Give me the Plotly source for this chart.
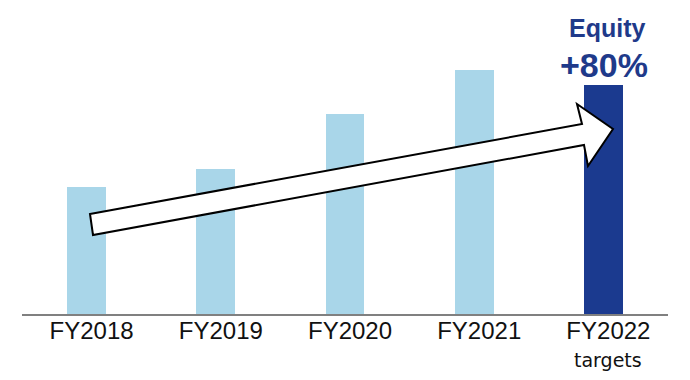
import plotly.graph_objects as go

# ---- data ----
categories = ["FY2018", "FY2019", "FY2020", "FY2021", "FY2022"]
equity_index = [100, 114, 157, 192, 180]
target_note = "targets"
headline_title = "Equity"
headline_value = "+80%"

W, H = 690, 380
ML, MR, MT, MB = 22, 22, 0, 66
Y_MAX = 247
X_MIN, X_MAX = -0.5, len(categories) - 0.5

light = "#a9d6e9"
navy = "#1b3a8f"
text_navy = "#1f3a8a"

colors = [light] * (len(categories) - 1) + [navy]
xs = list(range(len(categories)))

fig = go.Figure()
fig.add_trace(go.Bar(
    x=xs, y=equity_index, width=0.3,
    marker=dict(color=colors, line=dict(width=0)),
    hoverinfo="skip", showlegend=False,
))

# arrow outline, defined in plot-pixel space then mapped to data coords
plot_w = W - ML - MR
plot_h = H - MT - MB
def px_to_x(px):
    return X_MIN + (px - ML) / plot_w * (X_MAX - X_MIN)
def py_to_y(py):
    return (MT + plot_h - py) / plot_h * Y_MAX

arrow_px = [(90, 214), (582, 124), (577, 104), (613, 129),
            (588, 166), (584, 145), (93, 235)]
path = "M " + " L ".join(f"{px_to_x(a):.4f},{py_to_y(b):.3f}" for a, b in arrow_px) + " Z"
fig.add_shape(type="path", path=path, xref="x", yref="y",
              fillcolor="white", line=dict(color="black", width=2), layer="above")

font_family = "Liberation Sans, Arial, sans-serif"

fig.add_annotation(x=len(categories) - 1, y=(314 - 28) / 314, xref="x", yref="paper",
                   text=f"<b>{headline_title}</b>", showarrow=False, xshift=4,
                   yanchor="middle",
                   font=dict(size=25, color=text_navy, family=font_family))
fig.add_annotation(x=len(categories) - 1, y=(314 - 65) / 314, xref="x", yref="paper",
                   text=f"<b>{headline_value}</b>", showarrow=False, xshift=1,
                   yanchor="middle",
                   font=dict(size=34, color=text_navy, family=font_family))
fig.add_annotation(x=len(categories) - 1, y=0, xref="x", yref="paper",
                   text=target_note, showarrow=False, xshift=5, yshift=-46,
                   yanchor="middle",
                   font=dict(size=19, color="#111111", family="DejaVu Sans, sans-serif"))

fig.update_layout(
    width=W, height=H,
    margin=dict(l=ML, r=MR, t=MT, b=MB, pad=0),
    paper_bgcolor="white", plot_bgcolor="white",
    bargap=0,
    xaxis=dict(range=[X_MIN, X_MAX], tickmode="array", tickvals=xs, ticktext=categories,
               showgrid=False, zeroline=False, showline=True, linecolor="#808080",
               linewidth=1.5, ticks="", ticklabelshift=5, ticklabelstandoff=-6,
               tickfont=dict(size=24, color="#111111", family=font_family)),
    yaxis=dict(range=[0, Y_MAX], visible=False, showgrid=False, zeroline=False),
)

fig.write_html("out.html", config={"displayModeBar": False},
               post_script="document.body.style.margin='0';document.body.style.overflow='hidden';")
